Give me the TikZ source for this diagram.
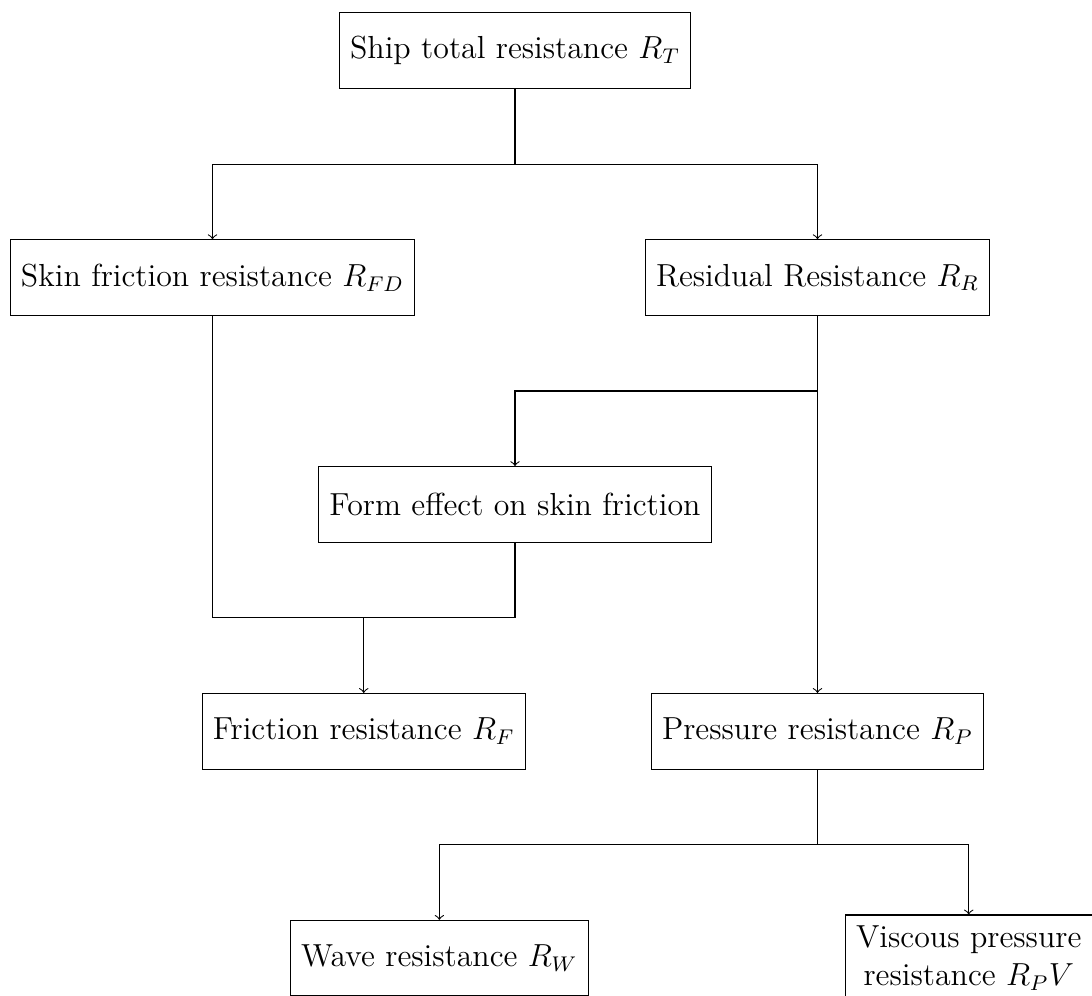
\documentclass[tikz,border=0pt,12pt]{standalone}
\usepackage{amsmath, amssymb}
\usepackage{tikz}
\usetikzlibrary{calc}

\begin{document}
\begin{tikzpicture}[box/.style={draw, minimum height=1cm, align=center}]
                \useasboundingbox (-6.81,0.67) rectangle (7.63,-12.50);
                \node[box] (ship)  at (0,0)   {Ship total resistance $R_T$};
                \node[box] (skin)  at (-4,-3) {Skin friction resistance $R_{FD}$};
                \node[box] (resid) at (4,-3)  {Residual Resistance $R_R$};
                \node[box] (form)  at (0,-6)  {Form effect on skin friction};
                \node[box] (fric)  at (-2,-9) {Friction resistance $R_F$};
                \node[box] (press) at (4,-9)  {Pressure resistance $R_P$};
                \node[box] (wave)  at (-1,-12) {Wave resistance $R_W$};
                \node[box] (visc)  at (6,-12) {Viscous pressure\\ resistance $R_PV$};
                \coordinate (splitT) at (0,-1.5);
                \coordinate (splitR) at (4,-4.5);
                \coordinate (joinF)  at (-2,-7.5);
                \coordinate (splitP) at (4,-10.5);
                \draw (ship) -- (splitT);
                \draw[->] (splitT) -| (skin);
                \draw[->] (splitT) -| (resid);
                \draw[->] (resid) -- (press);
                \draw[->] (splitR) -| (form);
                \draw (skin) |- (joinF) -| (form);
                \draw[->] (joinF) -- (fric);
                \draw (press) -- (splitP);
                \draw[->] (splitP) -| (wave);
                \draw[->] (splitP) -| (visc);
            \end{tikzpicture}
\end{document}
